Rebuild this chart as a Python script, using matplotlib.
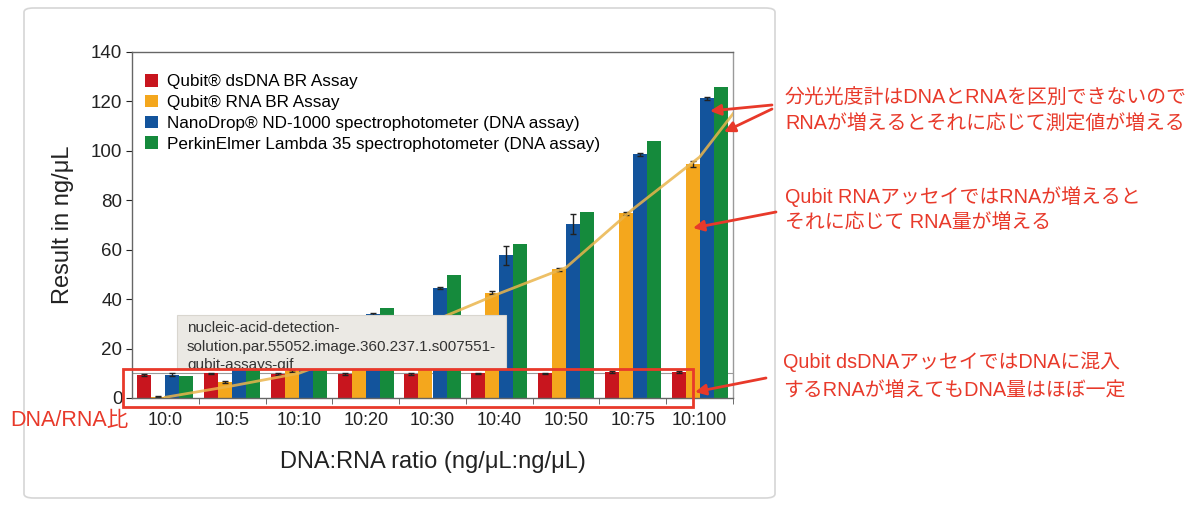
import numpy as np
import matplotlib
matplotlib.use("Agg")
import matplotlib.pyplot as plt
from matplotlib.patches import Rectangle, FancyBboxPatch
from matplotlib.ticker import FixedLocator

plt.rcParams['font.family'] = ['Liberation Sans', 'Noto Sans CJK JP', 'DejaVu Sans']

# data (ng/uL)
ratios = ["10:0", "10:5", "10:10", "10:20", "10:30", "10:40", "10:50", "10:75", "10:100"]
series_names = ["Qubit® dsDNA BR Assay",
                "Qubit® RNA BR Assay",
                "NanoDrop® ND-1000 spectrophotometer (DNA assay)",
                "PerkinElmer Lambda 35 spectrophotometer (DNA assay)"]
qubit_dsdna = [9.5, 10.0, 9.7, 9.8, 9.8, 10.0, 10.0, 10.5, 10.5]
qubit_rna = [0.5, 6.5, 11.0, 21.0, 31.0, 42.6, 52.0, 74.8, 94.7]
nanodrop = [9.5, 15.0, 20.0, 34.0, 44.6, 57.7, 70.3, 98.6, 121.2]
perkin = [9.0, 16.0, 22.0, 36.6, 49.6, 62.2, 75.2, 104.0, 126.0]
err_dsdna = [0.4, 0.3, 0.3, 0.3, 0.3, 0.3, 0.3, 0.3, 0.3]
err_rna = [0.2, 0.3, 0.3, 0.4, 0.5, 0.5, 0.6, 0.6, 1.2]
err_nano = [0.5, 0.5, 0.6, 0.5, 0.5, 3.8, 4.0, 0.5, 0.5]
err_perkin = [0, 0, 0, 0, 0, 0, 0, 0, 0]
# yellow trend line (group centres, last point at right edge)
trend_x = [0.5, 1.5, 2.5, 3.5, 4.5, 5.5, 6.5, 7.5, 8.5, 9.0]
trend_y = [0.3, 4.9, 10.0, 20.0, 31.0, 42.3, 52.8, 76.4, 97.5, 115.0]

colors = ["#c8151e", "#f4a71d", "#13549c", "#158a3c"]
red_note = "#e8392a"

W, H = 1200, 512
fig = plt.figure(figsize=(W / 100, H / 100), dpi=100)


def px(x, y):
    return (x / W, 1 - y / H)


# card background
card = FancyBboxPatch(px(24, 498), (775 - 24) / W, (498 - 8) / H,
                      boxstyle="round,pad=0,rounding_size=0.008",
                      transform=fig.transFigure, facecolor="white",
                      edgecolor="#d6d6d6", lw=1.2, zorder=-5)
fig.patches.append(card)

ax = fig.add_axes([132 / W, 1 - 398 / H, (733 - 132) / W, (398 - 52) / H])
ax.set_facecolor("none")

x = np.arange(len(ratios)) + 0.5
w = 0.21
all_vals = [qubit_dsdna, qubit_rna, nanodrop, perkin]
all_errs = [err_dsdna, err_rna, err_nano, err_perkin]
ax.axhline(10, color="#9a9a9a", lw=0.8, zorder=1)
for k in range(4):
    ax.bar(x + (k - 1.5) * w, all_vals[k], w, color=colors[k],
           label=series_names[k], zorder=2,
           yerr=all_errs[k] if any(all_errs[k]) else None,
           error_kw=dict(ecolor="#222222", lw=1, capsize=2.5, capthick=1))

ax.plot(trend_x, trend_y, color="#eab54c", lw=2, alpha=0.85, zorder=3)

ax.set_xlim(0, 9)
ax.set_ylim(0, 140)
ax.set_yticks(range(0, 141, 20))
ax.set_xticks(x)
ax.set_xticklabels(ratios)
ax.xaxis.set_minor_locator(FixedLocator(range(1, 10)))
ax.tick_params(axis="x", which="major", length=0, labelsize=13, pad=10, colors="#222222")
ax.tick_params(axis="x", which="minor", length=4, color="#555555", direction="out")
ax.tick_params(axis="y", length=4, labelsize=13.5, colors="#222222", pad=3)
for s in ax.spines.values():
    s.set_color("#666666")
    s.set_linewidth(1)
ax.spines["right"].set_color("#9a9a9a")

ax.set_xlabel("DNA:RNA ratio (ng/μL:ng/μL)", fontsize=17, labelpad=16, color="#222222")
ax.set_ylabel("Result in ng/μL", fontsize=17, labelpad=12, color="#222222")

ax.legend(loc="upper left", bbox_to_anchor=(0.005, 0.965), frameon=False,
          fontsize=12.3, handlelength=0.72, handleheight=0.72,
          handletextpad=0.55, labelspacing=0.33, borderaxespad=0.2)

# tooltip overlay
tip = Rectangle(px(177, 369), (506 - 177) / W, (369 - 315) / H,
                transform=fig.transFigure, facecolor="#ebe9e4",
                edgecolor="#d9d6cf", lw=0.8, zorder=2)
fig.patches.append(tip)
tip_lines = ["nucleic-acid-detection-",
             "solution.par.55052.image.360.237.1.s007551-",
             "qubit-assays-gif"]
for i, line in enumerate(tip_lines):
    t = fig.text(*px(187, 328 + i * 18.5), line, fontsize=11, color="#333333",
                 va="center", ha="left", zorder=2.5)
    t.set_clip_path(tip)

# red highlight box
box = Rectangle(px(123, 407), (693 - 123) / W, (407 - 369) / H,
                transform=fig.transFigure, facecolor="none",
                edgecolor=red_note, lw=2, zorder=3)
fig.patches.append(box)

fig.text(*px(10, 421), "DNA/RNA比", fontsize=15.5, color=red_note,
         va="center", ha="left", zorder=4)

notes = [(785, 98, "分光光度計はDNAとRNAを区別できないので"),
         (785, 123, "RNAが増えるとそれに応じて測定値が増える"),
         (785, 197, "Qubit RNAアッセイではRNAが増えると"),
         (785, 223, "それに応じて RNA量が増える"),
         (783, 362, "Qubit dsDNAアッセイではDNAに混入"),
         (783, 390, "するRNAが増えてもDNA量はほぼ一定")]
for nx, ny, s in notes:
    fig.text(*px(nx, ny), s, fontsize=14.3, color=red_note, va="center",
             ha="left", zorder=4)

arrows = [((772, 105), (710, 111)),
          ((772, 109), (724, 132)),
          ((776, 212), (693, 228)),
          ((766, 378), (695, 392))]
for tail, head in arrows:
    fig.add_artist(plt.Annotation("", xy=px(*head), xytext=px(*tail),
                                  xycoords="figure fraction",
                                  textcoords="figure fraction",
                                  arrowprops=dict(arrowstyle="-|>", color=red_note,
                                                  lw=2, mutation_scale=16,
                                                  shrinkA=0, shrinkB=0),
                                  zorder=4))

fig.savefig("out.png", dpi=100, facecolor="white")
